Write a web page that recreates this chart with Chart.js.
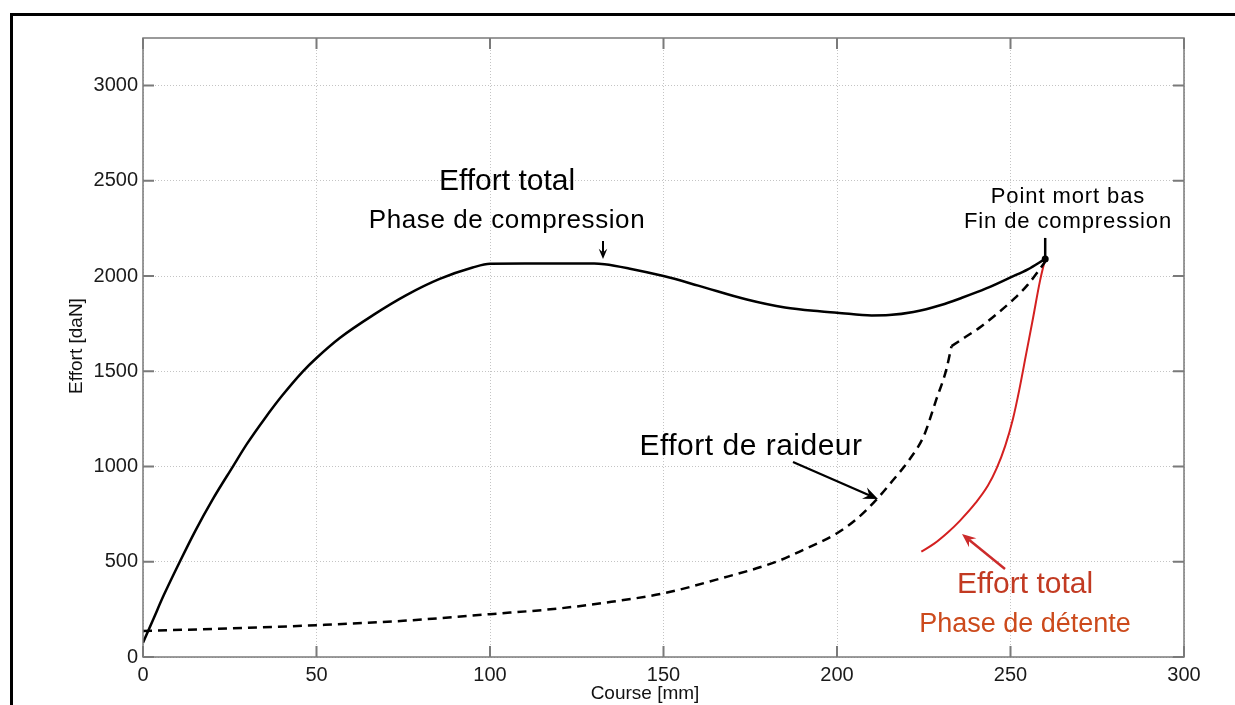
<!DOCTYPE html>
<html lang="fr">
<head>
    <meta charset="UTF-8">
    <title>Effort / Course</title>
    <style>
        html, body {
            margin: 0;
            padding: 0;
            background: #ffffff;
        }
        #chart-container {
            width: 1235px;
            height: 705px;
        }
    </style>
    <script src="https://cdn.jsdelivr.net/npm/chart.js"></script>
</head>
<body>
    <div id="chart-container">
        <canvas id="effortChart"></canvas>
    </div>
    <script>
        // Effort total, phase de compression (course mm -> effort daN)
        const compressionX = [0, 3, 6, 10.6, 15, 20, 25.9, 30, 35, 40, 46.1, 50, 56.7, 66.3, 75.9, 85.5, 95, 100, 110, 120, 130, 133, 140, 150, 160, 174, 185, 195, 200, 210, 215, 222, 230, 236, 243, 250, 255, 260];
        const compressionY = [75, 200, 325, 500, 660, 825, 1000, 1120, 1250, 1370, 1500, 1570, 1675, 1795, 1900, 1985, 2045, 2065, 2066, 2066, 2066, 2062, 2040, 2000, 1950, 1877, 1835, 1815, 1808, 1793, 1795, 1811, 1848, 1886, 1935, 1993, 2035, 2090];

        // Effort de raideur, jusqu'a la cassure puis au-dela
        const raideurX = [0, 25, 50, 75, 100, 120, 135, 150, 165, 182.5, 190, 200, 206, 211.3, 216, 221, 225, 228.6, 231.5, 233];
        const raideurY = [137, 150, 167, 190, 225, 255, 290, 334, 405, 500, 560, 650, 730, 825, 925, 1040, 1160, 1351, 1509, 1632];
        const raideurHautX = [233, 237, 241, 246, 251, 255, 260];
        const raideurHautY = [1632, 1680, 1728, 1800, 1880, 1955, 2075];

        // Effort total, phase de detente
        const detenteX = [224.3, 228, 232, 235.4, 240, 243.5, 246, 248.5, 250.7, 252.5, 254.5, 256.5, 258.5, 260];
        const detenteY = [553, 595, 655, 715, 810, 900, 990, 1110, 1250, 1400, 1590, 1780, 1975, 2090];

        const xTicks = [0, 50, 100, 150, 200, 250, 300];
        const yTicks = [0, 500, 1000, 1500, 2000, 2500, 3000];

        const FONT = '"Liberation Sans", Arial, sans-serif';

        const pairs = (xs, ys) => xs.map((x, i) => ({ x: x, y: ys[i] }));

        function arrow(ctx, x1, y1, x2, y2, color, width, head) {
            const a = Math.atan2(y2 - y1, x2 - x1);
            ctx.save();
            ctx.strokeStyle = color;
            ctx.fillStyle = color;
            ctx.lineWidth = width;
            ctx.beginPath();
            ctx.moveTo(x1, y1);
            ctx.lineTo(x2 - Math.cos(a) * head * 0.6, y2 - Math.sin(a) * head * 0.6);
            ctx.stroke();
            ctx.beginPath();
            ctx.moveTo(x2, y2);
            ctx.lineTo(x2 - head * Math.cos(a - 0.4), y2 - head * Math.sin(a - 0.4));
            ctx.lineTo(x2 - head * 0.6 * Math.cos(a), y2 - head * 0.6 * Math.sin(a));
            ctx.lineTo(x2 - head * Math.cos(a + 0.4), y2 - head * Math.sin(a + 0.4));
            ctx.closePath();
            ctx.fill();
            ctx.restore();
        }

        function label(ctx, text, x, y, size, color, spacing) {
            ctx.save();
            ctx.font = size + 'px ' + FONT;
            ctx.fillStyle = color;
            ctx.textAlign = 'center';
            ctx.textBaseline = 'alphabetic';
            if (spacing) ctx.letterSpacing = spacing + 'px';
            ctx.fillText(text, x, y);
            ctx.restore();
        }

        // box, inner ticks, annotations and outer frame
        const overlay = {
            id: 'overlay',
            afterDatasetsDraw(chart) {
                const ctx = chart.ctx;
                const a = chart.chartArea;
                const xs = chart.scales.x, ys = chart.scales.y;
                ctx.save();
                ctx.strokeStyle = '#7a7a7a';
                ctx.lineWidth = 1.5;
                ctx.strokeRect(a.left, a.top, a.right - a.left, a.bottom - a.top);
                ctx.lineWidth = 2;
                ctx.beginPath();
                xTicks.forEach(v => {
                    const p = xs.getPixelForValue(v);
                    ctx.moveTo(p, a.bottom); ctx.lineTo(p, a.bottom - 11);
                    ctx.moveTo(p, a.top); ctx.lineTo(p, a.top + 11);
                });
                yTicks.forEach(v => {
                    const p = ys.getPixelForValue(v);
                    ctx.moveTo(a.left, p); ctx.lineTo(a.left + 11, p);
                    ctx.moveTo(a.right, p); ctx.lineTo(a.right - 11, p);
                });
                ctx.stroke();
                ctx.restore();
            },
            afterDraw(chart) {
                const ctx = chart.ctx;
                const xs = chart.scales.x, ys = chart.scales.y;

                // axis titles
                ctx.save();
                ctx.font = '19px ' + FONT;
                ctx.fillStyle = '#111';
                ctx.textAlign = 'center';
                ctx.textBaseline = 'middle';
                ctx.fillText('Course [mm]', 645, 694);
                ctx.translate(77, 346);
                ctx.rotate(-Math.PI / 2);
                ctx.fillText('Effort [daN]', 0, 0);
                ctx.restore();

                // compression annotations
                label(ctx, 'Effort total', 507, 190, 30, '#000');
                label(ctx, 'Phase de compression', 507, 228, 26, '#000', 0.6);
                arrow(ctx, 603, 241, 603, 259, '#000', 2, 11);

                // end of stroke marker
                const px = xs.getPixelForValue(compressionX[compressionX.length - 1]);
                const py = ys.getPixelForValue(compressionY[compressionY.length - 1]);
                ctx.save();
                ctx.strokeStyle = '#000';
                ctx.lineWidth = 2.5;
                ctx.beginPath();
                ctx.moveTo(px, py - 21);
                ctx.lineTo(px, py);
                ctx.stroke();
                ctx.beginPath();
                ctx.arc(px, py, 3.5, 0, Math.PI * 2);
                ctx.fillStyle = '#000';
                ctx.fill();
                ctx.restore();
                label(ctx, 'Point mort bas', 1068, 203, 22, '#000', 0.9);
                label(ctx, 'Fin de compression', 1068, 228, 22, '#000', 0.9);

                // stiffness annotation
                label(ctx, 'Effort de raideur', 751, 455, 30, '#000', 0.5);
                arrow(ctx, 793, 462, 878, 499, '#000', 2.2, 16);

                // rebound annotation
                label(ctx, 'Effort total', 1025, 593, 30, '#c23a22');
                label(ctx, 'Phase de détente', 1025, 632, 27, '#cc4a1c');
                arrow(ctx, 1005, 569, 962, 534, '#cc2b2b', 2.5, 15);

                // outer frame
                ctx.save();
                ctx.fillStyle = '#000';
                ctx.fillRect(10, 13, 1225, 3);
                ctx.fillRect(10, 13, 3, 692);
                ctx.restore();
            }
        };

        const tickOpts = pad => ({
            padding: pad,
            color: '#1a1a1a',
            font: { family: FONT, size: 20 },
            callback: v => String(v)
        });

        const ctx = document.getElementById('effortChart').getContext('2d');
        new Chart(ctx, {
            type: 'scatter',
            data: {
                datasets: [
                    {
                        label: 'Effort total - compression',
                        data: pairs(compressionX, compressionY),
                        showLine: true,
                        borderColor: '#000',
                        borderWidth: 2.5,
                        pointRadius: 0,
                        cubicInterpolationMode: 'monotone'
                    },
                    {
                        label: 'Effort de raideur',
                        data: pairs(raideurX, raideurY),
                        showLine: true,
                        borderColor: '#000',
                        borderWidth: 2.5,
                        borderDash: [9, 6],
                        pointRadius: 0,
                        cubicInterpolationMode: 'monotone'
                    },
                    {
                        label: 'Effort de raideur (haut)',
                        data: pairs(raideurHautX, raideurHautY),
                        showLine: true,
                        borderColor: '#000',
                        borderWidth: 2.5,
                        borderDash: [9, 6],
                        pointRadius: 0,
                        cubicInterpolationMode: 'monotone'
                    },
                    {
                        label: 'Effort total - detente',
                        data: pairs(detenteX, detenteY),
                        showLine: true,
                        borderColor: '#d42020',
                        borderWidth: 2,
                        pointRadius: 0,
                        cubicInterpolationMode: 'monotone'
                    }
                ]
            },
            options: {
                responsive: true,
                maintainAspectRatio: false,
                animation: false,
                layout: { padding: { left: 0, top: 38, right: 51, bottom: 0 } },
                plugins: {
                    legend: { display: false },
                    tooltip: { enabled: false }
                },
                scales: {
                    x: {
                        type: 'linear',
                        min: 0,
                        max: 300,
                        afterFit: s => { s.height = 48; },
                        afterBuildTicks: s => { s.ticks = xTicks.map(v => ({ value: v })); },
                        ticks: tickOpts(6),
                        grid: { color: '#c4c4c4', lineWidth: 1, drawTicks: false },
                        border: { display: false, dash: [1, 2] }
                    },
                    y: {
                        type: 'linear',
                        min: 0,
                        max: 3250,
                        afterFit: s => { s.width = 143; },
                        afterBuildTicks: s => { s.ticks = yTicks.map(v => ({ value: v })); },
                        ticks: tickOpts(5),
                        grid: { color: '#c4c4c4', lineWidth: 1, drawTicks: false },
                        border: { display: false, dash: [1, 2] }
                    }
                }
            },
            plugins: [overlay]
        });
    </script>
</body>
</html>
